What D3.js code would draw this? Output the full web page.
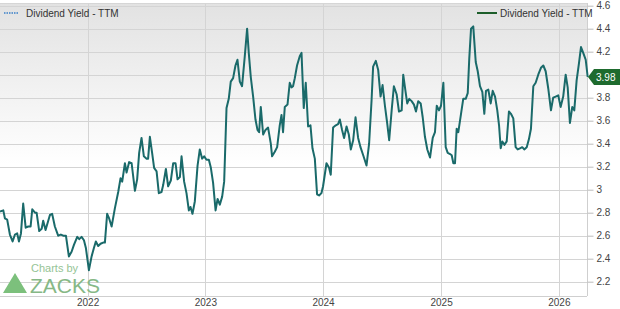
<!DOCTYPE html>
<html>
<head>
<meta charset="utf-8">
<script src="https://cdn.jsdelivr.net/npm/d3@7"></script>
<style>
  body { margin: 0; background: #fff; }
  svg { display: block; font-family: "Liberation Sans", Arial, sans-serif; }
</style>
</head>
<body>
<div id="chart"></div>
<script>
// dates as decimal years
var years = [
  2021.256, 2021.284, 2021.298, 2021.317, 2021.340, 2021.363, 2021.383, 2021.402, 2021.417, 2021.434,
  2021.453, 2021.474, 2021.496, 2021.516, 2021.530, 2021.553, 2021.567, 2021.589, 2021.610, 2021.623,
  2021.643, 2021.680, 2021.699, 2021.722, 2021.750, 2021.773, 2021.793, 2021.816, 2021.841, 2021.864,
  2021.884, 2021.912, 2021.929, 2021.949, 2021.969, 2021.986, 2022.011, 2022.034, 2022.053, 2022.070,
  2022.090, 2022.110, 2022.132, 2022.147, 2022.166, 2022.183, 2022.204, 2022.232, 2022.260, 2022.280,
  2022.294, 2022.317, 2022.331, 2022.353, 2022.374, 2022.402, 2022.421, 2022.438, 2022.458, 2022.478,
  2022.501, 2022.514, 2022.529, 2022.548, 2022.565, 2022.586, 2022.605, 2022.628, 2022.642, 2022.665,
  2022.684, 2022.707, 2022.727, 2022.747, 2022.764, 2022.784, 2022.798, 2022.820, 2022.840, 2022.860,
  2022.874, 2022.891, 2022.911, 2022.934, 2022.953, 2022.973, 2022.990, 2023.010, 2023.030, 2023.047,
  2023.066, 2023.087, 2023.104, 2023.123, 2023.143, 2023.160, 2023.180, 2023.199, 2023.216, 2023.236,
  2023.256, 2023.273, 2023.293, 2023.312, 2023.335, 2023.355, 2023.369, 2023.386, 2023.406, 2023.426,
  2023.443, 2023.457, 2023.471, 2023.491, 2023.511, 2023.533, 2023.556, 2023.567, 2023.590, 2023.610,
  2023.632, 2023.647, 2023.660, 2023.675, 2023.698, 2023.717, 2023.732, 2023.745, 2023.760, 2023.779,
  2023.802, 2023.817, 2023.836, 2023.853, 2023.873, 2023.893, 2023.910, 2023.930, 2023.949, 2023.966,
  2023.986, 2024.000, 2024.029, 2024.051, 2024.065, 2024.085, 2024.108, 2024.127, 2024.142, 2024.161,
  2024.178, 2024.199, 2024.218, 2024.235, 2024.255, 2024.275, 2024.297, 2024.317, 2024.340, 2024.368,
  2024.390, 2024.411, 2024.424, 2024.447, 2024.467, 2024.487, 2024.504, 2024.524, 2024.543, 2024.560,
  2024.581, 2024.600, 2024.623, 2024.643, 2024.666, 2024.679, 2024.699, 2024.713, 2024.730, 2024.750,
  2024.770, 2024.787, 2024.806, 2024.827, 2024.844, 2024.863, 2024.883, 2024.906, 2024.929, 2024.948,
  2024.963, 2024.982, 2024.999, 2025.019, 2025.039, 2025.056, 2025.076, 2025.090, 2025.104, 2025.118,
  2025.132, 2025.146, 2025.169, 2025.188, 2025.209, 2025.226, 2025.239, 2025.254, 2025.273, 2025.294,
  2025.311, 2025.330, 2025.350, 2025.367, 2025.381, 2025.401, 2025.421, 2025.438, 2025.458, 2025.477,
  2025.492, 2025.506, 2025.520, 2025.537, 2025.557, 2025.576, 2025.593, 2025.613, 2025.633, 2025.650,
  2025.670, 2025.689, 2025.706, 2025.727, 2025.746, 2025.763, 2025.783, 2025.803, 2025.825, 2025.848,
  2025.868, 2025.888, 2025.910, 2025.933, 2025.952, 2025.973, 2025.995, 2026.015, 2026.037, 2026.058,
  2026.075, 2026.094, 2026.114, 2026.131, 2026.151, 2026.171, 2026.188, 2026.207, 2026.228, 2026.245
];

// dividend yield TTM (%)
var yieldTTM = [
  2.81, 2.82, 2.75, 2.74, 2.61, 2.55, 2.61, 2.62, 2.55, 2.62,
  2.88, 2.67, 2.68, 2.68, 2.83, 2.80, 2.80, 2.64, 2.66, 2.73,
  2.65, 2.78, 2.79, 2.68, 2.60, 2.61, 2.60, 2.60, 2.42, 2.46,
  2.52, 2.59, 2.57, 2.59, 2.56, 2.49, 2.30, 2.42, 2.49, 2.55,
  2.51, 2.53, 2.54, 2.54, 2.79, 2.75, 2.68, 2.84, 2.98, 3.10,
  3.07, 3.23, 3.15, 3.24, 3.23, 2.99, 3.09, 3.32, 3.45, 3.29,
  3.27, 3.27, 3.46, 3.32, 3.19, 3.16, 2.97, 2.98, 3.04, 3.18,
  3.03, 3.08, 3.23, 3.23, 3.09, 3.11, 3.29, 3.07, 2.97, 2.82,
  2.85, 2.79, 2.90, 3.21, 3.35, 3.27, 3.29, 3.26, 3.26, 3.19,
  3.06, 2.82, 2.92, 2.87, 2.94, 3.07, 3.71, 3.79, 3.94, 3.97,
  4.08, 4.13, 3.94, 3.90, 4.16, 4.40, 4.19, 3.98, 3.81, 3.61,
  3.52, 3.50, 3.72, 3.48, 3.52, 3.54, 3.40, 3.29, 3.33, 3.37,
  3.56, 3.65, 3.50, 3.72, 3.74, 3.93, 3.89, 3.90, 3.97, 4.08,
  4.16, 4.19, 3.71, 3.93, 3.55, 3.56, 3.36, 3.27, 2.96, 2.95,
  2.97, 3.03, 3.23, 3.19, 3.13, 3.54, 3.56, 3.57, 3.61, 3.52,
  3.45, 3.55, 3.48, 3.35, 3.43, 3.63, 3.45, 3.37, 3.30, 3.21,
  3.40, 3.78, 4.07, 4.12, 4.04, 3.81, 3.91, 3.73, 3.58, 3.43,
  3.69, 3.90, 3.83, 3.68, 3.69, 4.00, 3.85, 3.75, 3.79, 3.77,
  3.74, 3.68, 3.77, 3.75, 3.63, 3.46, 3.35, 3.28, 3.45, 3.50,
  3.73, 3.69, 3.73, 3.93, 3.37, 3.32, 3.31, 3.30, 3.23, 3.23,
  3.53, 3.50, 3.66, 3.79, 3.79, 3.84, 4.14, 4.40, 4.42, 4.11,
  4.03, 3.90, 3.85, 3.66, 3.86, 3.87, 3.75, 3.86, 3.81, 3.69,
  3.56, 3.36, 3.42, 3.39, 3.42, 3.68, 3.66, 3.62, 3.37, 3.35,
  3.36, 3.37, 3.35, 3.37, 3.44, 3.53, 3.90, 3.93, 4.00, 4.06,
  4.08, 4.03, 3.88, 3.69, 3.80, 3.81, 3.82, 3.72, 3.81, 4.00,
  3.89, 3.58, 3.72, 3.69, 3.95, 4.10, 4.24, 4.19, 4.13, 3.98
];

var yTicks = [2.2, 2.4, 2.6, 2.8, 3, 3.2, 3.4, 3.6, 3.8, 4, 4.2, 4.4, 4.6];
var seriesName = "Dividend Yield - TTM";
var lastValue = "3.98";

var width = 620, height = 309;
var plot = { left: 0, right: 587, top: 3, bottom: 296 };

function toDate(t) {
  var yr = Math.floor(t);
  var s = new Date(yr, 0, 1), e = new Date(yr + 1, 0, 1);
  return new Date(+s + (t - yr) * (e - s));
}

var data = years.map(function(t, i) { return { date: toDate(t), value: yieldTTM[i] }; });

var svg = d3.select("#chart").append("svg")
  .attr("width", width)
  .attr("height", height);

var x = d3.scaleTime()
  .domain(d3.extent(data, function(d) { return d.date; }))
  .range([0, 587.7]);

var y = d3.scaleLinear()
  .domain([2.2, 4.6])
  .range([281.7, 5.7]);

// background gradient
var defs = svg.append("defs");
var grad = defs.append("linearGradient")
  .attr("id", "bg").attr("x1", 0).attr("y1", 0).attr("x2", 0).attr("y2", 1);
grad.append("stop").attr("offset", "0%").attr("stop-color", "#e2e2e2");
grad.append("stop").attr("offset", "55%").attr("stop-color", "#ffffff");
grad.append("stop").attr("offset", "100%").attr("stop-color", "#ffffff");

svg.append("rect")
  .attr("x", plot.left).attr("y", plot.top)
  .attr("width", plot.right - plot.left).attr("height", plot.bottom - plot.top)
  .attr("fill", "url(#bg)");

// horizontal grid
svg.append("g")
  .selectAll("line")
  .data(yTicks)
  .join("line")
  .attr("x1", plot.left).attr("x2", plot.right)
  .attr("y1", function(d) { return Math.round(y(d)) + 0.5; })
  .attr("y2", function(d) { return Math.round(y(d)) + 0.5; })
  .attr("stroke", "#d4d4d4");

// vertical grid at years
var yearTicks = x.ticks(d3.timeYear.every(1));
svg.append("g")
  .selectAll("line")
  .data(yearTicks)
  .join("line")
  .attr("x1", function(d) { return Math.round(x(d)) + 0.5; })
  .attr("x2", function(d) { return Math.round(x(d)) + 0.5; })
  .attr("y1", plot.top).attr("y2", plot.bottom)
  .attr("stroke", "#d4d4d4");

// frame
svg.append("line")
  .attr("x1", plot.left).attr("x2", plot.right)
  .attr("y1", plot.bottom + 0.5).attr("y2", plot.bottom + 0.5)
  .attr("stroke", "#cfcfcf");
svg.append("line")
  .attr("x1", plot.left).attr("x2", plot.right)
  .attr("y1", plot.top + 0.5).attr("y2", plot.top + 0.5)
  .attr("stroke", "#d6d6d6");

// right axis (the "4" label sits under the last-value tag, as in the original)
var rightAxis = d3.axisRight(y)
  .tickValues(yTicks.filter(function(d) { return d !== 4; }))
  .tickSize(6)
  .tickPadding(3)
  .tickFormat(function(d) { return String(+d.toFixed(1)); });

var yAxis = svg.append("g")
  .attr("transform", "translate(" + (plot.right + 0.5) + ",0)")
  .call(rightAxis);
yAxis.select(".domain")
  .attr("d", "M0," + plot.top + "V" + plot.bottom)
  .attr("stroke", "#cfcfcf");
yAxis.selectAll(".tick line").attr("stroke", "#bbbbbb");
yAxis.selectAll(".tick text")
  .attr("fill", "#444")
  .style("font-size", "10px")
  .style("font-family", "Liberation Sans, Arial, sans-serif");

// bottom axis (labels only)
var bottomAxis = d3.axisBottom(x)
  .ticks(d3.timeYear.every(1))
  .tickSize(0)
  .tickPadding(3)
  .tickFormat(d3.timeFormat("%Y"));

var xAxis = svg.append("g")
  .attr("transform", "translate(0," + plot.bottom + ")")
  .call(bottomAxis);
xAxis.select(".domain").remove();
xAxis.selectAll(".tick text")
  .attr("fill", "#444")
  .style("font-size", "10px")
  .style("font-family", "Liberation Sans, Arial, sans-serif");

// watermark
var wm = svg.append("g");
wm.append("text")
  .attr("x", 31).attr("y", 272)
  .attr("fill", "#95c495")
  .style("font-size", "11px")
  .text("Charts by");
wm.append("polygon")
  .attr("points", "3,293 15,273 27,293")
  .attr("fill", "#7cc07c");
wm.append("text")
  .attr("x", 30).attr("y", 293)
  .attr("fill", "#86b886")
  .style("font-size", "21px")
  .text("ZACKS");

// line
var line = d3.line()
  .x(function(d) { return x(d.date); })
  .y(function(d) { return y(d.value); });

svg.append("path")
  .datum(data)
  .attr("fill", "none")
  .attr("stroke", "#1a6a6a")
  .attr("stroke-width", 2)
  .attr("stroke-linejoin", "round")
  .attr("d", line);

// legends
svg.append("line")
  .attr("x1", 4).attr("x2", 19).attr("y1", 13).attr("y2", 13)
  .attr("stroke", "#3a7fc8").attr("stroke-width", 1.5)
  .attr("stroke-dasharray", "1.5,1");
svg.append("text")
  .attr("x", 26).attr("y", 17)
  .attr("fill", "#333")
  .style("font-size", "10px")
  .text(seriesName);

svg.append("line")
  .attr("x1", 477).attr("x2", 497).attr("y1", 13).attr("y2", 13)
  .attr("stroke", "#1d5e2a").attr("stroke-width", 2);
svg.append("text")
  .attr("x", 500).attr("y", 17)
  .attr("fill", "#333")
  .style("font-size", "10px")
  .text(seriesName);

// last value tag
var last = data[data.length - 1];
var ty = y(last.value);
svg.append("path")
  .attr("d", "M588," + ty + "L594," + (ty - 8) + "H620V" + (ty + 8) + "H594Z")
  .attr("fill", "#1e6b2e");
svg.append("text")
  .attr("x", 596).attr("y", ty + 3.5)
  .attr("fill", "#fff")
  .style("font-size", "10px")
  .text(lastValue);
</script>
</body>
</html>
